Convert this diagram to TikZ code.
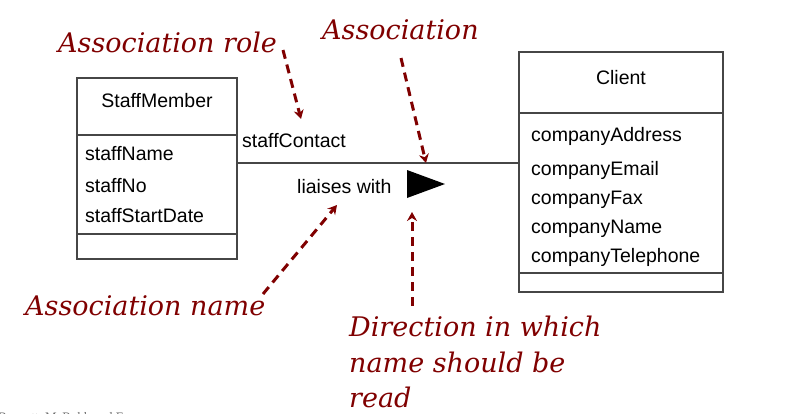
\documentclass[tikz,border=0pt]{standalone}
\usepackage{fontspec}
\setmainfont{Liberation Sans}
\newfontfamily\notefont{DejaVu Serif}
\newfontfamily\footfont{Liberation Serif}
\usetikzlibrary{arrows.meta}
\definecolor{maroon}{RGB}{128,0,0}
\definecolor{boxline}{RGB}{70,70,70}
\definecolor{footgrey}{RGB}{110,110,110}
\begin{document}
\begin{tikzpicture}[x=1pt,y=-1pt,
  umlbox/.style={draw=boxline,line width=1.2pt,inner sep=0,outer sep=0},
  divider/.style={draw=boxline,line width=1.2pt},
  assoc/.style={draw=boxline,line width=1.2pt},
  attr/.style={anchor=base west,inner sep=0,font=\fontsize{19.5}{22}\selectfont},
  ttl/.style={anchor=base,inner sep=0,font=\fontsize{19.5}{22}\selectfont},
  note/.style={anchor=base west,inner sep=0,text=maroon,font=\notefont\itshape\fontsize{27}{32}\selectfont},
  noteline/.style={draw=maroon,line width=3pt,dash pattern=on 9pt off 6pt,-{Stealth[length=9pt,width=10pt,inset=3pt]}},
]
\useasboundingbox (0,0) rectangle (790,413);
\fill[white] (0,0) rectangle (790,413);

% StaffMember class
\node[umlbox,minimum width=160pt,minimum height=181pt] (sm) at (157,168.5) {};
\coordinate (smd1l) at (77,135); \coordinate (smd1r) at (237,135);
\coordinate (smd2l) at (77,234); \coordinate (smd2r) at (237,234);
\draw[divider] (smd1l) -- (smd1r);
\draw[divider] (smd2l) -- (smd2r);
\node[ttl] (smtitle) at (157,107) {StaffMember};
\node[attr] (sma1) at (85,160) {staffName};
\node[attr] (sma2) at (85,192) {staffNo};
\node[attr] (sma3) at (85,222) {staffStartDate};

% Client class
\node[umlbox,minimum width=204pt,minimum height=240pt] (cl) at (621,172) {};
\coordinate (cld1l) at (519,113); \coordinate (cld1r) at (723,113);
\coordinate (cld2l) at (519,273); \coordinate (cld2r) at (723,273);
\draw[divider] (cld1l) -- (cld1r);
\draw[divider] (cld2l) -- (cld2r);
\node[ttl] (cltitle) at (621,84) {Client};
\node[attr] (cla1) at (531,141) {companyAddress};
\node[attr] (cla2) at (531,175) {companyEmail};
\node[attr] (cla3) at (531,204) {companyFax};
\node[attr] (cla4) at (531,233) {companyName};
\node[attr] (cla5) at (531,262) {companyTelephone};

% association
\coordinate (asl) at (237,163);
\coordinate (asr) at (519,163);
\draw[assoc] (asl) -- (asr);
\node[attr] (role) at (242,147) {staffContact};
\node[attr] (aname) at (297,193) {liaises with};
\fill[black] (407,170) -- (407,198) -- (445,184) -- cycle;

% annotations
\node[note] (nrole) at (58,52) {Association role};
\node[note] (nassoc) at (322,39) {Association};
\node[note] (nname) at (25,315) {Association name};
\node[note] (ndir1) at (349,336) {Direction in which};
\node[note] (ndir2) at (349,372) {name should be};
\node[note] (ndir3) at (349,407) {read};

\coordinate (rolefrom) at (283,50);  \coordinate (roleto) at (301,119);
\coordinate (assocfrom) at (401,58); \coordinate (assocto) at (426,163);
\coordinate (namefrom) at (263,294); \coordinate (nameto) at (337,205);
\coordinate (dirfrom) at (412,306);  \coordinate (dirto) at (412,212);
\draw[noteline] (rolefrom) -- (roleto);
\draw[noteline] (assocfrom) -- (assocto);
\draw[noteline] (namefrom) -- (nameto);
\draw[noteline] (dirfrom) -- (dirto);

% footer (cut by the page edge)
\node[anchor=base west,inner sep=0,text=footgrey,font=\footfont\fontsize{13}{14}\selectfont] (footer) at (-2,421) {Bennett, McRobb and Farmer};
\end{tikzpicture}
\end{document}
